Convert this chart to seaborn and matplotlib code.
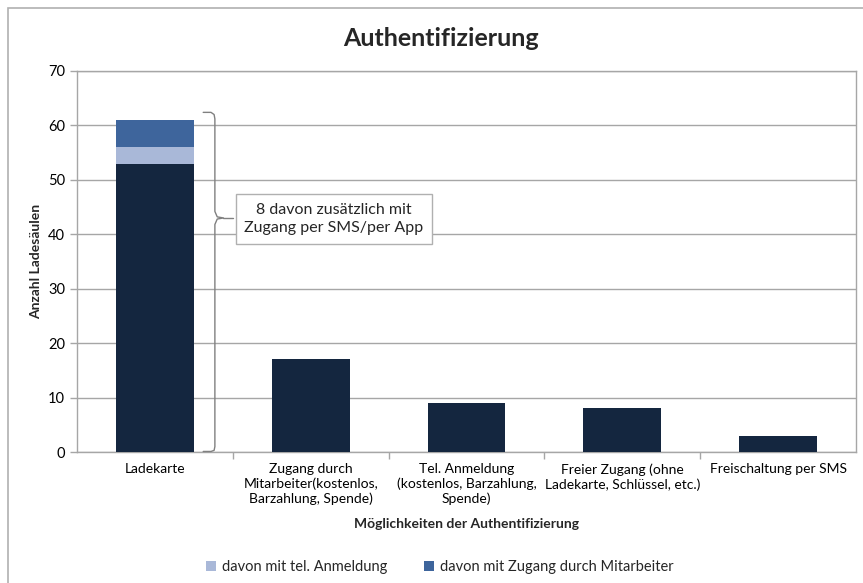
import matplotlib
matplotlib.use("Agg")
import matplotlib.pyplot as plt
import seaborn as sns
import pandas as pd
import numpy as np
from matplotlib.patches import Patch, Rectangle

categories = [
    "Ladekarte",
    "Zugang durch\nMitarbeiter(kostenlos,\nBarzahlung, Spende)",
    "Tel. Anmeldung\n(kostenlos, Barzahlung,\nSpende)",
    "Freier Zugang (ohne\nLadekarte, Schlüssel, etc.)",
    "Freischaltung per SMS",
]
base_values = [53, 17, 9, 8, 3]
tel_values = [3, 0, 0, 0, 0]
mitarbeiter_values = [5, 0, 0, 0, 0]
y_ticks = [0, 10, 20, 30, 40, 50, 60, 70]

C_DARK = "#14263f"
C_LIGHT = "#a9b8d8"
C_MID = "#3e659c"
GRID = "#a6a6a6"

sns.set_theme(style="white")
plt.rcParams["font.family"] = ["Lato", "DejaVu Sans"]

df = pd.DataFrame({
    "cat": categories,
    "base": base_values,
    "tel": np.array(base_values) + np.array(tel_values),
    "total": np.array(base_values) + np.array(tel_values) + np.array(mitarbeiter_values),
})

fig = plt.figure(figsize=(8.63, 5.83), dpi=100)
ax = fig.add_axes([77/863, 1-452/583, (856-77)/863, (452-71)/583])

for col, c in (("total", C_MID), ("tel", C_LIGHT), ("base", C_DARK)):
    sns.barplot(data=df, x="cat", y=col, color=c, width=0.5, saturation=1, ax=ax,
                zorder=3, linewidth=0, edgecolor="none")

ax.set_ylim(0, 70)
ax.set_xlim(-0.5, len(categories) - 0.5)
ax.set_yticks(y_ticks)
ax.yaxis.grid(True, color=GRID, linewidth=1, zorder=0)
ax.set_axisbelow(True)
for s in ax.spines.values():
    s.set_color(GRID)
    s.set_linewidth(1)
ax.tick_params(axis="y", length=5, color=GRID, labelsize=10.5, labelcolor="#000000", left=True, width=1)
ax.tick_params(axis="x", length=0, labelsize=10, labelcolor="#000000", pad=8)
ax.set_xticks(range(len(categories)))
ax.set_xticklabels(categories, ha="center", multialignment="center", linespacing=1.25)
ax.set_xticks(np.arange(0.5, len(categories) - 0.5, 1), minor=True)
ax.tick_params(axis="x", which="minor", length=5, color=GRID, width=1, bottom=True)

ax.set_ylabel("Anzahl Ladesäulen", fontsize=10, fontweight="bold", labelpad=4)
ax.set_xlabel("Möglichkeiten der Authentifizierung", fontsize=10, fontweight="bold", labelpad=9)
fig.text(441/863, 1-38/583, "Authentifizierung", ha="center", va="center",
         fontsize=18, fontweight="bold")

# curly brace annotation
bx = 0.385
brace_x = [0.31, 0.36, 0.38, bx, bx, 0.40, 0.44, 0.40, bx, bx, 0.38, 0.36, 0.31]
brace_y = [62.4, 62.4, 62.0, 61.2, 44.2, 43.2, 43.0, 42.8, 41.8, 1.0, 0.3, 0.1, 0.1]
ax.plot(brace_x, brace_y, color="#808080", linewidth=1, zorder=4, clip_on=False)
ax.plot([0.44, 0.5], [43.0, 43.0], color="#808080", linewidth=1, zorder=4)
ax.text(1.15, 42.8, "8 davon zusätzlich mit\nZugang per SMS/per App", ha="center", va="center",
        fontsize=11.5, linespacing=1.35, zorder=5,
        bbox=dict(boxstyle="square,pad=0.55", facecolor="white", edgecolor="#b0b0b0", linewidth=1))

# legend
handles = [Patch(facecolor=C_LIGHT, edgecolor="none", label="davon mit tel. Anmeldung"),
           Patch(facecolor=C_MID, edgecolor="none", label="davon mit Zugang durch Mitarbeiter")]
fig.legend(handles=handles, loc="center", bbox_to_anchor=(440/863, 1-567/583), ncol=2,
           frameon=False, fontsize=10.5, handlelength=0.7, handleheight=0.7,
           handletextpad=0.4, columnspacing=2.5)

# outer chart border
fig.patches.append(Rectangle((8/863, -0.05), 1.0, 1 - 8/583 + 0.05, transform=fig.transFigure,
                             fill=False, edgecolor="#b0b0b0", linewidth=1.2, zorder=0))

fig.savefig("out.png", dpi=100)
